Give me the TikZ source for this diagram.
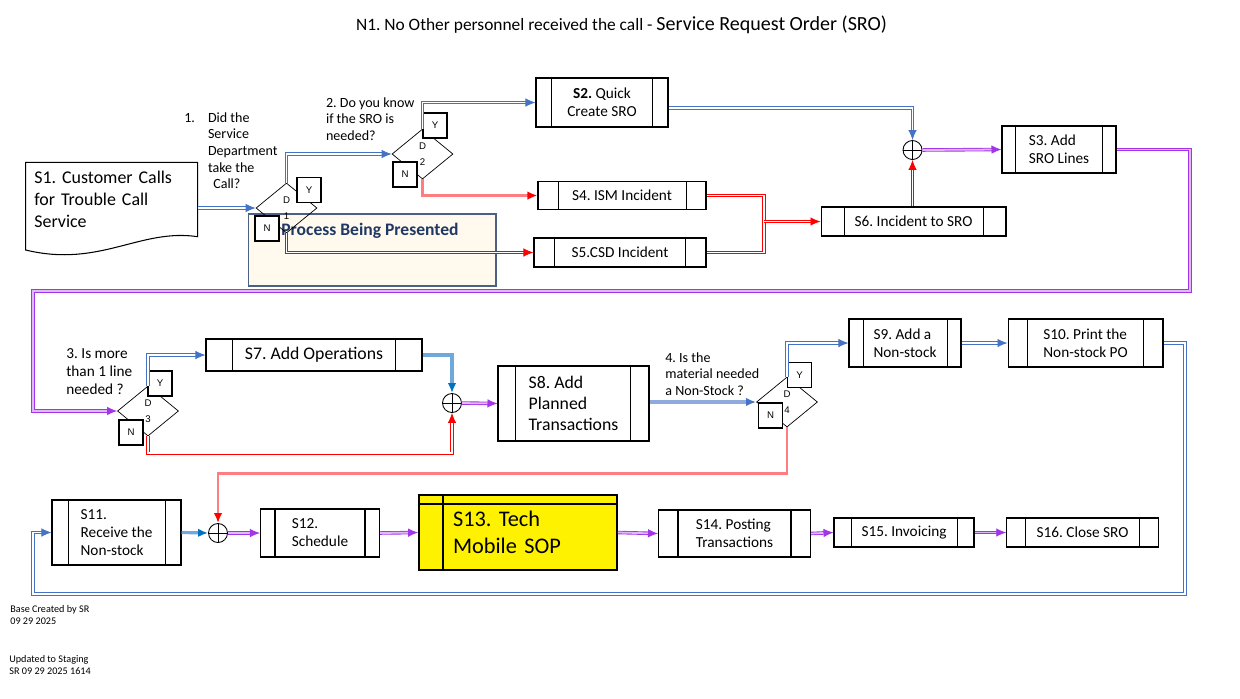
\documentclass[tikz,border=0pt]{standalone}
\usepackage{fontspec}
\setmainfont{Carlito}
\newfontfamily\arialf{Liberation Sans}
\usetikzlibrary{positioning,arrows.meta,shapes.geometric,calc}
\definecolor{lnblue}{HTML}{4472C4}
\definecolor{ltblue}{HTML}{6FA8DC}
\definecolor{pwblue}{HTML}{8FAADC}
\definecolor{tipblue}{HTML}{0070C0}
\definecolor{lnred}{HTML}{FF0000}
\definecolor{salmon}{HTML}{FF7C80}
\definecolor{lnpurp}{HTML}{A335E8}
\definecolor{hdblue}{HTML}{1F3864}
\definecolor{cream}{HTML}{FFF9EE}
\frenchspacing

\begin{document}
\begin{tikzpicture}[x=0.02cm, y=-0.02cm,
  proc/.style={draw, line width=0.6pt, inner sep=0pt, align=left, font=\fontsize{8.7}{10.2}\selectfont},
  bigproc/.style={proc, font=\fontsize{10.1}{12.1}\selectfont},
  dec/.style={diamond, draw, line width=0.4pt, inner sep=0pt, minimum width=1.22cm, minimum height=1cm, align=center, font=\arialf\fontsize{5.5}{8.8}\selectfont},
  yn/.style={draw, fill=white, line width=0.6pt, minimum width=0.48cm, minimum height=0.5cm, inner sep=0pt, font=\arialf\fontsize{5.5}{6}\selectfont},
  sum/.style={circle, draw, line width=0.5pt, minimum size=0.38cm, inner sep=0pt, path picture={\draw (path picture bounding box.north) -- (path picture bounding box.south) (path picture bounding box.west) -- (path picture bounding box.east);}},
  qtxt/.style={align=left, inner sep=0pt, anchor=north west, font=\fontsize{8}{9.5}\selectfont},
  note/.style={align=left, inner sep=0pt, anchor=north west, font=\fontsize{5.8}{7.1}\selectfont},
  tip/.style={-{Latex[length=2mm, width=1.7mm]}},
  bl/.style={tip, draw=lnblue, double=white, double distance=1pt, line width=0.5pt},
  bt/.style={-{Latex[length=2mm, width=1.7mm, color=tipblue]}, draw=ltblue, line width=1.8pt},
  bp/.style={-{Latex[length=2mm, width=1.7mm, color=lnblue]}, draw=pwblue, line width=1.8pt},
  rd/.style={tip, draw=lnred, double=white, double distance=1pt, line width=0.5pt},
  rt/.style={-{Latex[length=2mm, width=1.7mm, color=lnred]}, draw=salmon, line width=1.6pt},
  pp/.style={tip, draw=lnpurp, double=lnpurp!35, double distance=1pt, line width=0.5pt}
]
\useasboundingbox (0,0) rectangle (1240,698);
% title
\node (ttl) at (621.5,25) {{\fontsize{9.9}{12}\selectfont N1. No Other personnel received the call - }{\fontsize{11.4}{14}\selectfont Service Request Order (SRO)}};
% process banner (behind D1)
\node[draw=hdblue!80, fill=cream, line width=0.6pt, minimum width=4.96cm, minimum height=1.44cm, inner sep=0pt] (pbx) at (372,250) {};
\node[anchor=west, inner sep=0pt, text=hdblue, font=\fontsize{10}{12}\selectfont\bfseries] (pbt) at (281,231) {Process Being Presented};
% S1 document
\draw[line width=0.6pt] (25.7,162.3) -- (197.7,162.3) -- (197.7,236.7) .. controls (140,228) and (100,268) .. (25.7,250) -- cycle;
\node[anchor=north west, inner sep=0pt, text width=3.26cm, align=left, font=\fontsize{10.2}{12.3}\selectfont] (s1) at (34,171) {S1. Customer Calls\\for Trouble Call\\Service};
% question texts
\node[qtxt] (q1) at (184,110) {\begin{tabular}{@{}l@{\hspace{7.4pt}}l@{}}1. & Did the\\ & Service\\ & Department\\ & take the\\ & \hspace{3pt}Call?\end{tabular}};
\node[qtxt] (q2) at (325.7,97) {2. Do you know\\if the SRO is\\needed?};
\node[qtxt, font=\fontsize{8.7}{10.3}\selectfont] (q3) at (66,348.5) {3. Is more\\than 1 line\\needed ?};
\node[qtxt, font=\fontsize{8}{9.6}\selectfont] (q4) at (665,352) {4. Is the\\material needed\\a Non-Stock ?};
% decisions
\node[dec] (d1) at (286.5,208) {D\\1};
\node[dec] (d2) at (422.5,154) {D\\2};
\node[dec] (d3) at (148,411) {D\\3};
\node[dec] (d4) at (787,402) {D\\4};
\node[yn] (y1) at (309,190) {Y};   \node[yn] (n1) at (267,228.5) {N};
\node[yn] (y2) at (435,125.5) {Y}; \node[yn] (n2) at (405,174.5) {N};
\node[yn] (y3) at (160,383.5) {Y}; \node[yn] (n3) at (131,432.5) {N};
\node[yn] (y4) at (799.5,375) {Y}; \node[yn] (n4) at (770.5,415.5) {N};
% steps
\node[proc, align=center, minimum width=2.64cm, minimum height=0.98cm] (s2) at (602,102.5) {\textbf{S2.} Quick\\Create SRO};
\node[proc, minimum width=2.28cm, minimum height=0.94cm] (s3) at (1059,149.5) {S3. Add\\SRO Lines};
\node[proc, minimum width=3.36cm, minimum height=0.56cm] (s4) at (622,195.5) {S4. ISM Incident};
\node[proc, minimum width=3.44cm, minimum height=0.58cm] (s5) at (620,252.5) {S5.CSD Incident};
\node[proc, minimum width=3.7cm, minimum height=0.58cm] (s6) at (913.5,221.5) {S6. Incident to SRO};
\node[bigproc, minimum width=4.32cm, minimum height=0.64cm] (s7) at (314,355) {S7. Add Operations};
\node[bigproc, minimum width=3.02cm, minimum height=1.5cm] (s8) at (573.5,403.5) {S8. Add\\Planned\\Transactions};
\node[proc, minimum width=2.24cm, minimum height=0.96cm] (s9) at (905,343) {S9. Add a\\Non-stock};
\node[proc, minimum width=3.1cm, minimum height=0.96cm] (s10) at (1085.5,343) {S10. Print the\\Non-stock PO};
\node[proc, minimum width=2.58cm, minimum height=1.3cm] (s11) at (116.5,532.5) {S11.\\Receive the\\Non-stock};
\node[proc, minimum width=2.38cm, minimum height=0.96cm] (s12) at (320,533) {S12.\\Schedule};
\node[draw, fill=yellow, line width=1pt, inner sep=0pt, minimum width=3.96cm, minimum height=1.5cm, text width=2.6cm, align=left, font=\fontsize{12.7}{15.5}\selectfont] (s13) at (518,532.5) {S13. Tech\\Mobile SOP};
\node[proc, minimum width=3.04cm, minimum height=0.94cm] (s14) at (734.5,533.5) {S14. Posting\\Transactions};
\node[proc, minimum width=2.8cm, minimum height=0.58cm] (s15) at (904,532.5) {S15. Invoicing};
\node[proc, minimum width=3.03cm, minimum height=0.58cm] (s16) at (1082.5,532.5) {S16. Close SRO};
\foreach \n/\a/\b in {s2/16/16, s3/14/14, s4/21/20, s5/21/21, s6/24/23, s7/27/27, s8/18/19, s9/15/14, s10/20/20, s11/17/16, s12/15/15, s14/20/20, s15/18/17, s16/19/19}
  {\draw[line width=0.6pt] ($(\n.north west)+(\a,0)$) -- ($(\n.south west)+(\a,0)$);
   \draw[line width=0.6pt] ($(\n.north east)-(\b,0)$) -- ($(\n.south east)-(\b,0)$);}
\draw[line width=0.8pt] ($(s13.north west)+(0,10)$) -- ($(s13.north east)+(0,10)$);
\draw[line width=0.8pt] ($(s13.north west)+(25,0)$) -- ($(s13.south west)+(25,0)$);
% junctions
\node[sum] (sum1) at (912.5,150) {};
\node[sum] (sum2) at (452,403) {};
\node[sum] (sum3) at (218,533) {};
\coordinate (mrg) at (764,221.5);
\coordinate (r1) at (1190,291); \coordinate (r2) at (33,291);
\coordinate (r3) at (1185,594); \coordinate (r4) at (33,594);
% top row
\draw[bl] (s1.east |- d1.west) -- (d1.west);
\draw[bl] (d1.north) |- (d2.west);
\draw[rd] (d1.south) |- (s5.west);
\draw[bl] (d2.north) |- (s2.west);
\draw[rt] (d2.south) |- (s4.west);
\draw[bl] ($(s2.east)+(0,5.5)$) -| (sum1.north);
\draw[rd, -] (s4.east) -| (mrg);
\draw[rd, -] (s5.east) -| (mrg);
\draw[rd] (mrg) -- (s6.west);
\draw[rd] (sum1.south |- s6.north) -- (sum1.south);
\draw[pp] (sum1.east) -- (s3.west);
\draw[pp] (s3.east) -| (r1) -- (r2) |- (d3.west);
% middle row
\draw[bl] (d3.north) |- (s7.west);
\draw[bt] (s7.east) -| (sum2.north);
\draw[rd] (d3.south) -- ++(0,17) -| (sum2.south);
\draw[pp] (sum2.east) -- (s8.west);
\draw[bp] (s8.east |- d4.west) -- (d4.west);
\draw[bl] (d4.north) |- (s9.west);
\draw[bl] (s9.east) -- (s10.west);
\draw[bl] (s10.east) -| (r3) -- (r4) |- (s11.west);
\draw[rt] (d4.south) -- ++(0,46) -| (sum3.north);
% bottom row
\draw[bt] (s11.east) -- (sum3.west);
\draw[pp] (sum3.east) -- (s12.west);
\foreach \a/\b in {s12/s13, s13/s14, s14/s15, s15/s16} \draw[pp] (\a.east) -- (\b.west);
% notes
\node[note] (nb) at (10,605) {Base Created by SR\\09 29 2025};
\node[note] (nu) at (9,655) {Updated to Staging\\SR 09 29 2025 1614};
\end{tikzpicture}
\end{document}
